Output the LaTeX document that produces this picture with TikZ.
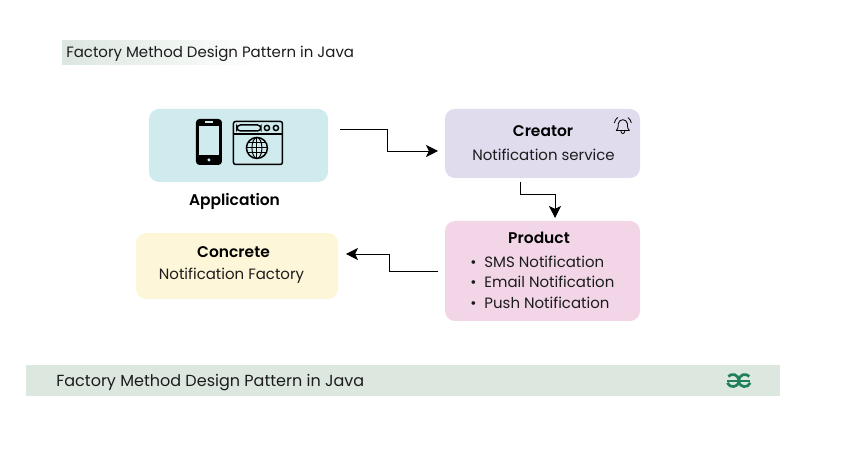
\documentclass[tikz,border=0pt]{standalone}
\usepackage{fontspec}
\setmainfont{Poppins}[BoldFont={Poppins SemiBold}]
\usetikzlibrary{arrows.meta}
\definecolor{App-1}{RGB}{208,235,238}
\definecolor{Creator-1}{RGB}{224,220,238}
\definecolor{Product-1}{RGB}{242,214,232}
\definecolor{Concrete-1}{RGB}{253,246,216}
\definecolor{Footer-1}{RGB}{220,231,224}
\definecolor{Logo-1}{RGB}{31,128,90}
\definecolor{Ink-1}{RGB}{28,28,28}
\tikzset{
  panel/.style={rounded corners=0.25cm, inner sep=0pt},
  heading/.style={text=black, font=\fontsize{11}{12}\selectfont\bfseries},
  plain/.style={text=Ink-1, font=\fontsize{10.65}{12}\selectfont},
  flow/.style={-{Stealth[length=8.5pt, width=8.5pt, inset=2pt]}, black, line width=0.6pt},
  icon/.style={black, line width=1.05pt},
}

\begin{document}
\begin{tikzpicture}
  \useasboundingbox (0, 0) rectangle (21.625, 11.5);

  \node[minimum width=5.1cm, minimum height=0.6cm, left color=Footer-1, right color=white, inner sep=0pt] (band) at (4.1, 10.175) {};
  \node[plain, anchor=west, inner sep=0pt] (title) at (1.65, 10.15) {Factory Method Design Pattern in Java};

  \node[panel, fill=App-1,      minimum width=4.475cm, minimum height=1.825cm] (app)      at (5.9625, 7.8625) {};
  \node[panel, fill=Creator-1,  minimum width=4.875cm, minimum height=1.725cm] (creator)  at (13.5625, 7.9125) {};
  \node[panel, fill=Product-1,  minimum width=4.875cm, minimum height=2.5cm]   (product)  at (13.5625, 4.725) {};
  \node[panel, fill=Concrete-1, minimum width=5.05cm,  minimum height=1.65cm]  (concrete) at (5.925, 4.85) {};

  \node[heading] (applabel) at (5.8625, 6.475) {Application};
  \node[heading] (creatorhead) at (13.575, 8.225) {Creator};
  \node[plain]   (creatortext) at (13.5875, 7.625) {Notification service};
  \node[heading] (producthead) at (13.475, 5.55) {Product};
  \node[plain, anchor=west, inner sep=0pt] (sms)   at (11.75, 4.95) {•\hspace{0.2cm}SMS Notification};
  \node[plain, anchor=west, inner sep=0pt] (email) at (11.75, 4.45) {•\hspace{0.2cm}Email Notification};
  \node[plain, anchor=west, inner sep=0pt] (push)  at (11.75, 3.93) {•\hspace{0.2cm}Push Notification};
  \node[heading] (concretehead) at (5.8375, 5.2) {Concrete};
  \node[plain]   (concretetext) at (5.7875, 4.6) {Notification Factory};

  \coordinate (appout)      at (8.5, 8.275);
  \coordinate (creatorin)   at (10.95, 7.725);
  \coordinate (creatorout)  at (13.0, 6.95);
  \coordinate (productin)   at (13.875, 6.05);
  \coordinate (productout)  at (10.95, 4.725);
  \coordinate (concretein)  at (8.65, 5.15);

  \draw[flow] (appout) -- ++(1.175, 0) |- (creatorin);
  \draw[flow] (creatorout) -- ++(0, -0.3) -| (productin);
  \draw[flow] (productout) -- ++(-1.225, 0) |- (concretein);

  \node[fill=Footer-1, minimum width=18.85cm, minimum height=0.775cm, inner sep=0pt] (footer) at (10.075, 1.9875) {};
  \node[plain, font=\fontsize{11.4}{12}\selectfont, anchor=west, inner sep=0pt] (footertext) at (1.4, 1.94) {Factory Method Design Pattern in Java};

  % icons, in pixels of the page
  \begin{scope}[x=0.025cm, y=-0.025cm, yshift=11.5cm]
    % phone
    \fill[black, rounded corners=2.5pt] (196, 119) rectangle (222, 165);
    \fill[App-1] (199, 126) rectangle (219, 155);
    \fill[App-1] (205, 121.5) rectangle (213, 123);
    \fill[App-1] (209, 160) circle[radius=1.7];
    % browser
    \draw[icon, rounded corners=1.5pt] (233.5, 121.5) rectangle (282.5, 164.5);
    \draw[icon] (233.5, 134) -- (282.5, 134);
    \draw[icon, rounded corners=2.5pt] (237, 125) rectangle (261, 131);
    \draw[icon] (267, 128) circle[radius=2.6];
    \draw[icon] (276, 128) circle[radius=2.6];
    \draw[icon] (257, 148) circle[radius=10.5];
    \draw[icon, line width=0.7pt] (257, 148) ellipse[x radius=5, y radius=10.5];
    \draw[icon, line width=0.7pt] (257, 137.5) -- (257, 158.5);
    \draw[icon, line width=0.7pt] (246.5, 148) -- (267.5, 148);
    \draw[icon, line width=0.7pt] (248, 143) -- (266, 143);
    \draw[icon, line width=0.7pt] (248, 153) -- (266, 153);
    % bell
    \draw[black, line width=0.6pt, line join=round] (616.5, 130.5) .. controls (619, 128) and (618, 125) .. (618.5, 123.5) .. controls (619.5, 118.5) and (626.5, 118.5) .. (627.5, 123.5) .. controls (628, 125) and (627, 128) .. (629.5, 130.5) -- cycle;
    \draw[black, line width=0.6pt] (621, 131) .. controls (621.5, 134.5) and (624.5, 134.5) .. (625, 131);
    \draw[black, line width=0.6pt] (614.5, 123) .. controls (615, 120.5) and (616, 119) .. (618, 117.5);
    \draw[black, line width=0.6pt] (631.5, 123) .. controls (631, 120.5) and (630, 119) .. (628, 117.5);
    % logo
    \draw[Logo-1, line width=1.9pt] (727.5, 381) -- (750.5, 381);
    \draw[Logo-1, line width=1.9pt] (728.5, 376.5) .. controls (732, 373) and (738.5, 374) .. (739, 381) .. controls (738.5, 388) and (730, 388.5) .. (727.5, 383);
    \draw[Logo-1, line width=1.9pt] (749.5, 376.5) .. controls (746, 373) and (739.5, 374) .. (739, 381) .. controls (739.5, 388) and (748, 388.5) .. (750.5, 383);
  \end{scope}
\end{tikzpicture}
\end{document}
